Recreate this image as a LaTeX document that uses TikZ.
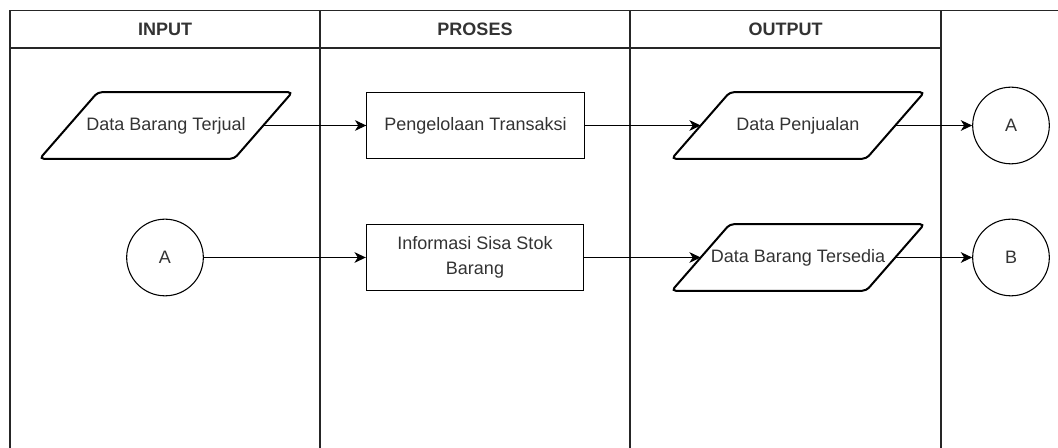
\documentclass[tikz,border=0pt]{standalone}
\usepackage{fontspec}
\setmainfont{Liberation Sans}
\usetikzlibrary{arrows.meta}
\definecolor{lanecol}{HTML}{262626}
\definecolor{txtcol}{HTML}{333333}
\tikzset{
  lane/.style={draw=lanecol, line width=1pt},
  head/.style={font=\fontsize{13.5}{16}\selectfont\bfseries, text=txtcol},
  body/.style={font=\fontsize{13.5}{18.75}\selectfont, text=txtcol, align=center},
  iobox/.style={body, minimum width=145.5pt, minimum height=49.5pt, inner sep=0pt},
  ioline/.style={draw=black, line width=1.5pt, rounded corners=3pt},
  procbox/.style={body, draw=black, line width=0.8pt, minimum width=163pt, minimum height=49pt, inner sep=0pt},
  connector/.style={body, draw=black, line width=0.8pt, circle, minimum size=57.5pt, inner sep=0pt},
  flow/.style={draw=black, line width=0.8pt, -{Stealth[length=8.5pt,width=8pt,inset=2.5pt]}}
}
\begin{document}
\begin{tikzpicture}[x=0.75pt, y=-0.75pt]
\useasboundingbox (0,0) rectangle (1058,448);

% swimlane frame
\draw[lane] (10,10.5) -- (1058,10.5);
\draw[lane] (10,48) -- (941,48);
\foreach \xx in {10,320,630,941} \draw[lane] (\xx,10.5) -- (\xx,448);

% lane headings
\node[head] (hin)  at (165,29.5) {INPUT};
\node[head] (hpro) at (475,29.5) {PROSES};
\node[head] (hout) at (785.5,29.5) {OUTPUT};

% first row
\node[iobox]   (in1)  at (166,125.5)  {Data Barang Terjual};
\node[procbox] (pr1)  at (475.5,125.5) {Pengelolaan Transaksi};
\node[iobox]   (out1) at (798,125.5)  {Data Penjualan};
\node[connector] (ca1) at (1011,125.5) {A};

% second row
\node[connector] (ca2) at (165,257.5) {A};
\node[procbox] (pr2)  at (475,257.5) {Informasi Sisa Stok\\Barang};
\node[iobox]   (out2) at (798,257.5)  {Data Barang Tersedia};
\node[connector] (cb)  at (1011,257.5) {B};

% slanted data outlines
\foreach \n in {in1,out1,out2}
  \draw[ioline] ([xshift=21.75pt]\n.north west) -- ([xshift=21.75pt]\n.north east)
     -- ([xshift=-21.75pt]\n.south east) -- ([xshift=-21.75pt]\n.south west) -- cycle;

% flows
\draw[flow] (in1.east) -- (pr1.west);
\draw[flow] (pr1.east) -- (out1.west);
\draw[flow] (out1.east) -- (ca1.west);
\draw[flow] (ca2.east) -- (pr2.west);
\draw[flow] (pr2.east) -- (out2.west);
\draw[flow] (out2.east) -- (cb.west);
\end{tikzpicture}
\end{document}
